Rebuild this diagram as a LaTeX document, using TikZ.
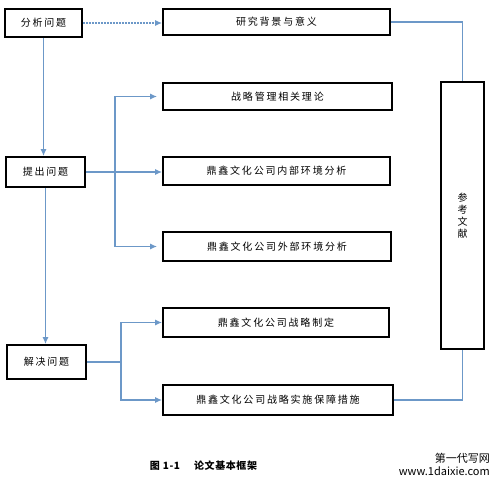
\documentclass[tikz,border=0pt]{standalone}
\usepackage{fontspec}
\usetikzlibrary{positioning, arrows.meta}
\newfontfamily\cjk[LetterSpace=18]{Noto Sans CJK SC}
\newfontfamily\cjkbold[LetterSpace=6]{Noto Sans CJK SC}
\newfontfamily\wmfont{Noto Sans CJK SC}
\definecolor{linkblue}{RGB}{108,152,200}

\begin{document}
\begin{tikzpicture}[
    x=1pt, y=-1pt,
    box/.style={draw, line width=1.7pt, rectangle, minimum height=28pt, align=center, font=\cjk\fontsize{10}{12}\selectfont, inner sep=0pt},
    arr/.style={-{Latex[length=7pt,width=6pt]}, line width=1.5pt, draw=linkblue},
    link/.style={line width=1.5pt, draw=linkblue}
]
    \useasboundingbox (0,0) rectangle (501,486);

    % left column
    \node[box, minimum width=77pt] (fenxi) at (43.5,23) {分析问题};
    \node[box, minimum width=79pt, minimum height=30pt] (tichu) at (45.5,172) {提出问题};
    \node[box, minimum width=79pt, minimum height=34pt] (jiejue) at (46.5,362) {解决问题};

    % middle column
    \node[box, minimum width=227pt, minimum height=26pt] (beijing) at (276.5,22) {研究背景与意义};
    \node[box, minimum width=229pt, minimum height=27pt] (lilun) at (277.5,96.5) {战略管理相关理论};
    \node[box, minimum width=227pt] (neibu) at (276.5,171) {鼎鑫文化公司内部环境分析};
    \node[box, minimum width=228pt, minimum height=29pt] (waibu) at (277,246.5) {鼎鑫文化公司外部环境分析};
    \node[box, minimum width=226pt, minimum height=29pt] (zhiding) at (276,322.5) {鼎鑫文化公司战略制定};
    \node[box, minimum width=230pt, minimum height=30pt] (baozhang) at (278,400) {鼎鑫文化公司战略实施保障措施};

    % right column
    \node[box, minimum width=43pt, minimum height=267pt] (wenxian) at (462.5,215.5) {参\\考\\文\\献};

    % forks
    \coordinate (fork1) at (115,172);
    \coordinate (fork2) at (121,362);

    \draw[arr, dash pattern=on 2pt off 1pt] (fenxi.east) -- (fenxi.east -| beijing.west);
    \draw[arr] (fenxi.south) -- (fenxi.south |- tichu.north);
    \draw[arr] (tichu.east) -- (tichu.east -| neibu.west);
    \draw[arr, shorten >=5pt] (fork1) |- (lilun.west);
    \draw[arr, shorten >=5pt] (fork1) |- (waibu.west);
    \draw[arr] (tichu.south) -- (tichu.south |- jiejue.north);
    \draw[link] (jiejue.east) -- (fork2);
    \draw[arr] (fork2) |- (zhiding.west);
    \draw[arr] (fork2) |- (baozhang.west);
    \draw[link] (beijing.east) -| (wenxian.north);
    \draw[link] (baozhang.east) -| (wenxian.south);

    % caption and mark
    \node[font=\cjkbold\fontsize{10}{12}\selectfont\bfseries] (caption) at (203.5,466) {图 1-1\hspace{14pt}论文基本框架};
    \node[font=\wmfont\fontsize{11}{12}\selectfont, anchor=east, inner sep=0pt] (mark1) at (490,458) {第一代写网};
    \node[font=\wmfont\fontsize{11}{12}\selectfont, anchor=east, inner sep=0pt] (mark2) at (490,471) {www.1daixie.com};
\end{tikzpicture}
\end{document}
